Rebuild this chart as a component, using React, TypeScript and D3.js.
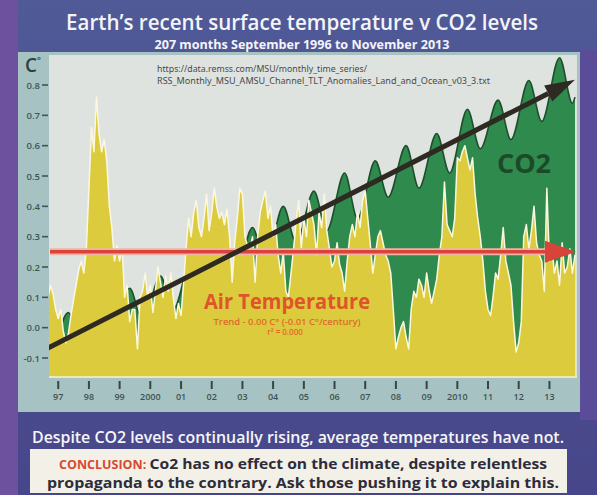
import React from 'react';
import * as d3 from 'd3';

const W = 597;
const H = 495;

// RSS TLT monthly anomalies (°C), Sep 1996 .. Nov 2013
const tempStart = '1996-09';
const tempValues = [
  0.10, 0.14, 0.11, 0.06,
  0.03, 0.06, -0.01, -0.05, -0.02, 0.04, 0.09, 0.14, 0.19, 0.22, 0.18, 0.26,
  0.46, 0.66, 0.58, 0.76, 0.64, 0.58, 0.62, 0.55, 0.40, 0.33, 0.22, 0.27,
  0.22, 0.26, 0.10, 0.14, 0.02, 0.06, 0.06, -0.07, 0.10, 0.12, 0.18, 0.10,
  0.14, 0.05, 0.12, 0.20, 0.15, 0.10, 0.17, 0.12, 0.18, 0.10, 0.03, 0.08,
  0.04, 0.15, 0.26, 0.36, 0.30, 0.38, 0.42, 0.33, 0.30, 0.36, 0.44, 0.32,
  0.38, 0.46, 0.40, 0.36, 0.38, 0.34, 0.39, 0.30, 0.15, 0.28, 0.36, 0.46,
  0.44, 0.30, 0.27, 0.26, 0.30, 0.15, 0.30, 0.38, 0.42, 0.45, 0.36, 0.40,
  0.30, 0.34, 0.24, 0.18, 0.25, 0.12, 0.10, 0.18, 0.26, 0.35, 0.42, 0.26,
  0.36, 0.30, 0.42, 0.38, 0.34, 0.24, 0.38, 0.33, 0.44, 0.32, 0.26, 0.20,
  0.22, 0.28, 0.21, 0.18, 0.12, 0.22, 0.30, 0.34, 0.30, 0.38, 0.33, 0.42,
  0.45, 0.36, 0.28, 0.18, 0.24, 0.30, 0.32, 0.28, 0.24, 0.22, 0.18, 0.06,
  -0.07, -0.03, 0.00, 0.02, -0.03, -0.07, 0.06, 0.12, 0.10, 0.16, 0.14, 0.10,
  0.18, 0.12, 0.08, 0.12, 0.16, 0.24, 0.30, 0.48, 0.34, 0.32, 0.30, 0.36,
  0.56, 0.55, 0.58, 0.60, 0.56, 0.52, 0.56, 0.44, 0.36, 0.30, 0.22, 0.12,
  0.06, 0.04, 0.10, 0.18, 0.16, 0.24, 0.33, 0.22, 0.18, 0.14, 0.02, -0.08,
  -0.05, 0.02, 0.30, 0.34, 0.26, 0.32, 0.40, 0.28, 0.24, 0.22, 0.12, 0.46,
  0.22, 0.26, 0.18, 0.22, 0.14, 0.28, 0.18, 0.20, 0.26, 0.18, 0.24,
];

// CO2 seasonal highs (May) and lows (Oct), drawn on the °C scale
const co2Months = [
  '1996-09', '1996-10',
  '1997-05', '1997-10', '1998-05', '1998-10', '1999-05', '1999-10',
  '2000-05', '2000-10', '2001-05', '2001-10', '2002-05', '2002-10',
  '2003-05', '2003-10', '2004-05', '2004-10', '2005-05', '2005-10',
  '2006-05', '2006-10', '2007-05', '2007-10', '2008-05', '2008-10',
  '2009-05', '2009-10', '2010-05', '2010-10', '2011-05', '2011-10',
  '2012-05', '2012-10', '2013-05', '2013-10', '2013-11',
];
const co2Values = [
  -0.05, -0.07,
  0.05, -0.05, 0.09, -0.01, 0.13, 0.02,
  0.17, 0.06, 0.22, 0.11, 0.27, 0.16,
  0.33, 0.21, 0.40, 0.28, 0.45, 0.32,
  0.51, 0.36, 0.55, 0.43, 0.60, 0.46,
  0.64, 0.51, 0.72, 0.59, 0.75, 0.62,
  0.815, 0.68, 0.89, 0.74, 0.76,
];

const co2TrendMonths = ['1996-09', '2013-11'];
const co2TrendValues = [-0.067, 0.817];
const tempTrendValue = 0.25;

const yTicks = [0.8, 0.7, 0.6, 0.5, 0.4, 0.3, 0.2, 0.1, 0.0, -0.1];
const yearTicks = [1997, 1998, 1999, 2000, 2001, 2002, 2003, 2004, 2005, 2006, 2007, 2008, 2009, 2010, 2011, 2012, 2013];
const yearLabels = ['97', '98', '99', '2000', '01', '02', '03', '04', '05', '06', '07', '08', '09', '2010', '11', '12', '13'];

type Pt = { date: Date; value: number };

const parse = d3.timeParse('%Y-%m');

const plot = { left: 49, right: 577, top: 55, bottom: 377 };

export default function App() {
  const start = parse(tempStart)!;
  const temp: Pt[] = tempValues.map((v, i) => ({ date: d3.timeMonth.offset(start, i), value: v }));
  const co2: Pt[] = co2Months.map((m, i) => ({ date: parse(m)!, value: co2Values[i] }));

  const x = d3.scaleTime()
    .domain([start, temp[temp.length - 1].date])
    .range([48, 575]);
  const y = d3.scaleLinear().domain([-0.1, 0.8]).range([358, 85]);

  const tempArea = d3.area<Pt>().x(d => x(d.date)).y0(plot.bottom).y1(d => y(d.value));
  const tempLine = d3.line<Pt>().x(d => x(d.date)).y(d => y(d.value));
  const co2Area = d3.area<Pt>().curve(d3.curveMonotoneX).x(d => x(d.date)).y0(plot.bottom).y1(d => y(d.value));
  const co2Line = d3.line<Pt>().curve(d3.curveMonotoneX).x(d => x(d.date)).y(d => y(d.value));

  // CO2 trend arrow
  const bx1 = x(parse(co2TrendMonths[0])!), by1 = y(co2TrendValues[0]);
  const bx2 = x(parse(co2TrendMonths[1])!), by2 = y(co2TrendValues[1]);
  const ang = Math.atan2(by2 - by1, bx2 - bx1);
  const headLen = 30, headW = 9;
  const hbx = bx2 - headLen * Math.cos(ang), hby = by2 - headLen * Math.sin(ang);
  const blackHead = [
    [bx2, by2],
    [hbx + headW * Math.sin(ang), hby - headW * Math.cos(ang)],
    [hbx - headW * Math.sin(ang), hby + headW * Math.cos(ang)],
  ].map(p => p.join(',')).join(' ');

  // temperature trend arrow
  const ry = y(tempTrendValue);
  const rx1 = plot.left + 1;
  const rx2 = x(temp[temp.length - 1].date) + 1;
  const redHead = [[rx2, ry], [rx2 - 31, ry - 11], [rx2 - 31, ry + 11]].map(p => p.join(',')).join(' ');

  const sans = "'Open Sans', 'Noto Sans', sans-serif";

  return (
    <svg width={W} height={H} style={{ position: 'absolute', left: 0, top: 0 }}>
      <defs>
        <clipPath id="plotClip">
          <rect x={plot.left} y={plot.top} width={plot.right - plot.left} height={plot.bottom - plot.top} />
        </clipPath>
        <linearGradient id="bg" x1="0" y1="0" x2="0" y2="1">
          <stop offset="0" stopColor="#505a97" />
          <stop offset="1" stopColor="#47468a" />
        </linearGradient>
      </defs>

      <rect x={0} y={0} width={W} height={H} fill="url(#bg)" />
      <rect x={0} y={0} width={18} height={H} fill="#6d519f" />
      <rect x={580} y={50} width={17} height={370} fill="#5a4c98" />

      <text x={302} y={30} textAnchor="middle" fill="#f4f4f8" fontFamily={sans} fontWeight={600}
        fontSize={21.5} textLength={472} lengthAdjust="spacingAndGlyphs">
        Earth’s recent surface temperature v CO2 levels
      </text>
      <text x={302} y={48.5} textAnchor="middle" fill="#f4f4f8" fontFamily={sans} fontWeight={700}
        fontSize={11.5} textLength={295} lengthAdjust="spacingAndGlyphs">
        207 months September 1996 to November 2013
      </text>

      {/* teal panel */}
      <rect x={18} y={52} width={562} height={360} fill="#a7c2c2" />
      <rect x={plot.left} y={plot.top} width={plot.right - plot.left} height={plot.bottom - plot.top} fill="#dfe3e0" />

      <g clipPath="url(#plotClip)">
        <path d={co2Area(co2)!} fill="#2f8a4e" />
        <path d={co2Line(co2)!} fill="none" stroke="#1d4f2c" strokeWidth={1.6} />
        <path d={tempArea(temp)!} fill="#dccb3d" />
        <path d={tempLine(temp)!} fill="none" stroke="#fbf8e2" strokeWidth={1.5} strokeLinejoin="round" />

        <line x1={rx1} y1={ry} x2={rx2 - 28} y2={ry} stroke="#efb4a6" strokeWidth={7} />
        <line x1={rx1} y1={ry} x2={rx2 - 28} y2={ry} stroke="#d8433a" strokeWidth={3.5} />
        <polygon points={redHead} fill="#d8433a" />

        <line x1={bx1} y1={by1} x2={hbx} y2={hby} stroke="#2e2a22" strokeWidth={5} />
        <polygon points={blackHead} fill="#2e2a22" />
      </g>
      <rect x={plot.left} y={plot.bottom - 1} width={plot.right - plot.left} height={2} fill="#efe9b0" />

      <text x={157} y={72} fill="#4a4a48" fontFamily="'Noto Sans', sans-serif" fontSize={8}
        textLength={210} lengthAdjust="spacingAndGlyphs">
        https://data.remss.com/MSU/monthly_time_series/
      </text>
      <text x={157} y={84} fill="#4a4a48" fontFamily="'Noto Sans', sans-serif" fontSize={8}
        textLength={333} lengthAdjust="spacingAndGlyphs">
        RSS_Monthly_MSU_AMSU_Channel_TLT_Anomalies_Land_and_Ocean_v03_3.txt
      </text>

      <text x={524} y={173} textAnchor="middle" fill="#1c4a29" fontFamily={sans} fontWeight={700} fontSize={27}>
        CO2
      </text>

      <text x={287} y={309} textAnchor="middle" fill="#e0542b" fontFamily={sans} fontWeight={700}
        fontSize={21} textLength={166} lengthAdjust="spacingAndGlyphs">
        Air Temperature
      </text>
      <text x={287} y={325} textAnchor="middle" fill="#e06a2c" fontFamily={sans} fontWeight={600}
        fontSize={8} textLength={147} lengthAdjust="spacingAndGlyphs">
        Trend - 0.00 C° (-0.01 C°/century)
      </text>
      <text x={285} y={335} textAnchor="middle" fill="#e06a2c" fontFamily={sans} fontWeight={600} fontSize={8}>
        r² = 0.000
      </text>

      {/* y axis */}
      <text x={25} y={72} fill="#2e4040" fontFamily={sans} fontWeight={600} fontSize={19}>
        C<tspan fontSize={9} dy={-8}>°</tspan>
      </text>
      {yTicks.map(t => (
        <g key={t}>
          <text x={40} y={y(t) + 3.5} textAnchor="end" fill="#3c5656" fontFamily={sans} fontWeight={600} fontSize={9.5}>
            {t.toFixed(1)}
          </text>
          <line x1={42} x2={48} y1={y(t)} y2={y(t)} stroke="#3c5656" strokeWidth={1.6} />
        </g>
      ))}

      {/* x axis */}
      {yearTicks.map((yr, i) => {
        const tx = x(new Date(yr, 0, 1));
        return (
          <g key={yr}>
            <line x1={tx} x2={tx} y1={381} y2={389} stroke="#364646" strokeWidth={2} />
            <text x={tx} y={400} textAnchor="middle" fill="#3e5252" fontFamily={sans} fontWeight={600} fontSize={9}>
              {yearLabels[i]}
            </text>
          </g>
        );
      })}

      <text x={298} y={443} textAnchor="middle" fill="#f6f6fa" fontFamily={sans} fontWeight={600}
        fontSize={15.5} textLength={532} lengthAdjust="spacingAndGlyphs">
        Despite CO2 levels continually rising, average temperatures have not.
      </text>

      <rect x={30} y={449} width={537} height={44} fill="#f3f0e8" />
      <text x={303} y={469} textAnchor="middle" fontFamily={sans} fontWeight={700} fontSize={15}
        textLength={488} lengthAdjust="spacingAndGlyphs">
        <tspan fill="#d9492e" fontSize={12}>CONCLUSION: </tspan>
        <tspan fill="#2c2c3a">Co2 has no effect on the climate, despite relentless</tspan>
      </text>
      <text x={303} y={488} textAnchor="middle" fill="#2c2c3a" fontFamily={sans} fontWeight={700} fontSize={15}
        textLength={512} lengthAdjust="spacingAndGlyphs">
        propaganda to the contrary. Ask those pushing it to explain this.
      </text>
    </svg>
  );
}
